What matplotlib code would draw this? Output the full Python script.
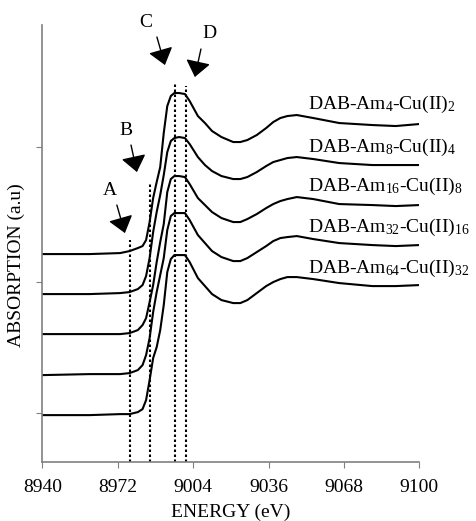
import matplotlib
matplotlib.use("Agg")
import matplotlib.pyplot as plt

plt.rcParams['font.family'] = ['Liberation Serif', 'DejaVu Serif']
plt.rcParams['mathtext.fontset'] = 'custom'
plt.rcParams['mathtext.rm'] = 'Liberation Serif'
plt.rcParams['mathtext.it'] = 'Liberation Serif:italic'

# energy grid (eV)
energy = [8940, 8960, 8973, 8977, 8980.5, 8982.5, 8984, 8985.5, 8987, 8988.5,
          8990, 8991.5, 8993, 8994.5, 8996, 8998, 9000.5, 9002.5, 9006, 9009,
          9012, 9016, 9021, 9024, 9027, 9031, 9035, 9038, 9041, 9044,
          9048, 9055, 9066, 9080, 9090, 9100]

# absorption (a.u., stacked) for each sample
am4 = [2.08, 2.08, 2.09, 2.11, 2.14, 2.16, 2.22, 2.40, 2.64, 2.80,
       2.95, 3.29, 3.56, 3.66, 3.69, 3.69, 3.68, 3.61, 3.46, 3.39,
       3.31, 3.25, 3.20, 3.20, 3.22, 3.27, 3.34, 3.40, 3.44, 3.46,
       3.47, 3.44, 3.39, 3.37, 3.36, 3.38]
am8 = [1.68, 1.68, 1.69, 1.70, 1.73, 1.77, 1.86, 2.04, 2.30, 2.50,
       2.67, 2.87, 3.10, 3.21, 3.24, 3.25, 3.24, 3.18, 3.05, 2.97,
       2.91, 2.86, 2.83, 2.83, 2.85, 2.90, 2.96, 3.00, 3.02, 3.04,
       3.05, 3.03, 2.99, 2.97, 2.97, 2.97]
am16 = [1.28, 1.28, 1.28, 1.29, 1.32, 1.37, 1.44, 1.60, 1.77, 2.00,
        2.20, 2.38, 2.70, 2.83, 2.86, 2.86, 2.85, 2.78, 2.64, 2.57,
        2.50, 2.44, 2.40, 2.40, 2.43, 2.48, 2.54, 2.58, 2.61, 2.63,
        2.65, 2.63, 2.58, 2.57, 2.56, 2.57]
am32 = [0.87, 0.88, 0.88, 0.89, 0.92, 0.97, 1.07, 1.24, 1.50, 1.70,
        1.87, 2.04, 2.32, 2.46, 2.49, 2.49, 2.49, 2.42, 2.27, 2.19,
        2.11, 2.05, 2.01, 2.01, 2.04, 2.10, 2.16, 2.21, 2.24, 2.25,
        2.26, 2.23, 2.19, 2.17, 2.16, 2.17]
am64 = [0.47, 0.47, 0.48, 0.48, 0.50, 0.53, 0.62, 0.82, 1.04, 1.15,
        1.32, 1.57, 1.90, 2.03, 2.07, 2.07, 2.07, 2.00, 1.84, 1.76,
        1.68, 1.62, 1.59, 1.59, 1.62, 1.69, 1.76, 1.80, 1.83, 1.85,
        1.85, 1.83, 1.79, 1.76, 1.76, 1.77]

curves = [am4, am8, am16, am32, am64]
labels = ['DAB-Am$_{4}$-Cu(II)$_{2}$', 'DAB-Am$_{8}$-Cu(II)$_{4}$',
          'DAB-Am$_{16}$-Cu(II)$_{8}$', 'DAB-Am$_{32}$-Cu(II)$_{16}$',
          'DAB-Am$_{64}$-Cu(II)$_{32}$']
label_y = [3.58, 3.15, 2.76, 2.35, 1.94]

# features A-D: line energy, top of dotted line, letter pos, arrow tail, arrow tip
feat_names = ['A', 'B', 'C', 'D']
feat_e = [8977.1, 8985.6, 8996.2, 9000.9]
feat_top = [2.22, 2.80, 3.80, 3.76]
letter_xy = [(8968.7, 2.72), (8975.4, 3.32), (8983.9, 4.40), (9011.1, 4.29)]
tail_xy = [(8971.6, 2.57), (8977.6, 3.17), (8988.6, 4.25), (9007.3, 4.13)]
tip_xy = [(8975.0, 2.29), (8980.1, 2.90), (8992.0, 3.97), (9004.7, 3.85)]

xticks = [8940, 8972, 9004, 9036, 9068, 9100]
yticks = [0.49, 1.80, 3.15]

fig = plt.figure(figsize=(4.77, 5.21), dpi=100)
ax = fig.add_axes([0.089, 0.113, 0.79, 0.839])

for c in curves:
    ax.plot(energy, c, color='black', lw=1.5, solid_joinstyle='round')

for e, top in zip(feat_e, feat_top):
    ax.plot([e, e], [0, top], color='black', lw=1.5, ls=(0, (1.2, 1.2)))

for n, lxy, t, h in zip(feat_names, letter_xy, tail_xy, tip_xy):
    ax.text(lxy[0], lxy[1], n, fontsize=14, ha='center', va='center')
    ax.annotate('', xy=h, xytext=t,
                arrowprops=dict(arrowstyle='-|>,head_length=0.45,head_width=0.35',
                                mutation_scale=22, lw=1, color='black',
                                shrinkA=0, shrinkB=0))

for lab, y in zip(labels, label_y):
    ax.text(9052.7, y, lab, fontsize=14, ha='left', va='center')

ax.set_xlim(8940, 9100)
ax.set_ylim(0, 4.37)
ax.set_xticks(xticks)
ax.set_yticks(yticks)
ax.set_yticklabels([])
ax.tick_params(axis='x', labelsize=14, direction='out', length=4, color='gray', pad=8)
ax.tick_params(axis='y', direction='out', length=4, color='gray')
for s in ['top', 'right']:
    ax.spines[s].set_visible(False)
for s in ['left', 'bottom']:
    ax.spines[s].set_color('gray')
    ax.spines[s].set_linewidth(1.2)

ax.set_xlabel('ENERGY (eV)', fontsize=14, labelpad=6)
ax.set_ylabel('ABSORPTION (a.u)', fontsize=14)
ax.yaxis.set_label_coords(-0.045, 0.45)

fig.savefig('out.png', dpi=100)
